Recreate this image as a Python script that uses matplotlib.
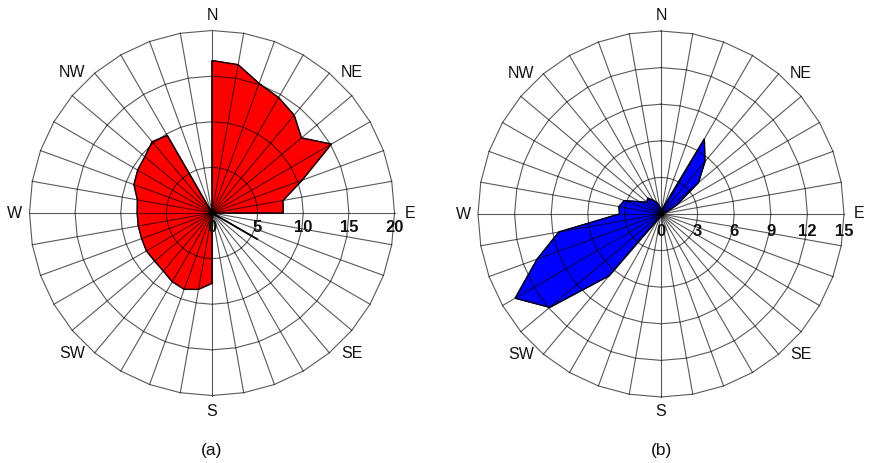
"""Two wind-rose style frequency plots, (a) red and (b) blue."""

import matplotlib

matplotlib.use("Agg")
import matplotlib.pyplot as plt
import numpy as np

plt.rcParams["font.family"] = ["Liberation Sans", "DejaVu Sans"]

# direction of each 10 degree sector, clockwise from north
directions = np.arange(0, 360, 10)

freq_a = [16.7, 16.5, 15.1, 14.6, 14.0, 12.8, 15.1, 10.5, 7.9, 7.8,
          0, 0, 0, 0, 0, 0, 0, 0,
          7.7, 8.5, 8.9, 8.7, 8.3, 8.2, 8.3, 8.2, 8.2, 8.2,
          8.3, 9.1, 9.4, 9.6, 10.2, 9.8, 0, 0]
ticks_a = [0, 5, 10, 15, 20]

freq_b = [0.4, 0.3, 0.6, 7.1, 5.6, 4.0, 1.5, 0.5, 0.3, 0.2,
          0.2, 0.2, 0.2, 0.2, 0.2, 0.2, 0.2, 0.2, 0.2, 0.2, 0.2,
          0.5, 6.6, 11.9, 13.8, 10.8, 8.5, 3.4, 3.5, 3.2,
          2.0, 1.5, 1.7, 1.3, 1.0, 0.6]
ticks_b = [0, 3, 6, 9, 12, 15]

compass = ["N", "NE", "E", "SE", "S", "SW", "W", "NW"]
compass_deg = [0, 45, 90, 135, 180, 225, 270, 315]

W, H = 869, 463


def xy(r, deg):
    t = np.radians(deg)
    return np.asarray(r) * np.sin(t), np.asarray(r) * np.cos(t)


def rose(fig, cx, cy, px_per_unit, freq, ticks, color, label, tick_dy):
    half = 212
    lim = half / px_per_unit
    ax = fig.add_axes([(cx - half) / W, (H - cy - half) / H, 2 * half / W, 2 * half / H])
    ax.set_xlim(-lim, lim)
    ax.set_ylim(-lim, lim)
    ax.set_aspect("equal")
    ax.axis("off")

    x, y = xy(freq, directions)
    ax.fill(x, y, color=color, zorder=1)

    rmax = ticks[-1]
    ring_deg = np.append(directions, 360)
    for r in ticks[1:]:
        rx, ry = xy(np.full(len(ring_deg), r), ring_deg)
        ax.plot(rx, ry, color="k", lw=0.8, alpha=0.65, zorder=2)
    for d in directions:
        sx, sy = xy([0, rmax], [d, d])
        ax.plot(sx, sy, color="k", lw=0.8, alpha=0.65, zorder=2)

    ax.fill(x, y, facecolor="none", edgecolor="k", lw=1.0, zorder=3)

    for t in ticks:
        ax.text(t, -tick_dy, str(t), ha="center", va="center",
                fontsize=12, fontweight="bold", color="#111111", zorder=4)

    lab_r = 198 / px_per_unit
    for name, d in zip(compass, compass_deg):
        lx, ly = xy(lab_r, d)
        ax.text(lx, ly, name, ha="center", va="center", fontsize=11.5, color="#111111")

    ax.text(0, -(450 - cy) / px_per_unit, label, ha="center", va="center",
            fontsize=12.5, color="#111111")
    return ax


fig = plt.figure(figsize=(W / 100, H / 100), dpi=100)

ax_a = rose(fig, 212, 213, 182.5 / 20, freq_a, ticks_a, "#ff0000", "(a)", 1.55)
# short dark stroke from the centre towards the "5" label
sx, sy = xy([0, 5.7], [120, 120])
ax_a.plot(sx, sy, color="k", lw=1.3, zorder=3)

rose(fig, 661, 214, 183 / 15, freq_b, ticks_b, "#0000ff", "(b)", 1.4)

fig.savefig("out.png", dpi=100)
